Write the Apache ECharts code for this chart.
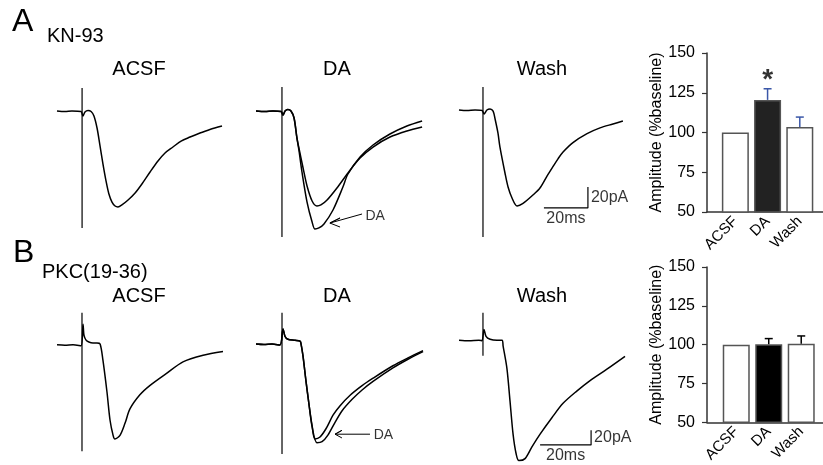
<!DOCTYPE html>
<html><head><meta charset="utf-8">
<script src="https://cdn.jsdelivr.net/npm/echarts@6/dist/echarts.min.js"></script>
<style>html,body{margin:0;padding:0;background:#fff}#c{width:823px;height:465px}</style>
</head><body><div id="c"></div>
<script>
// ---- bar data ----
const barCategories = ['ACSF', 'DA', 'Wash'];
const ampKN93 = [100, 120.5, 103.5];
const semKN93 = [0, 7, 6.2];
const ampPKC = [100, 100.3, 100.5];
const semPKC = [0, 3.6, 5.1];

// ---- traces: [time ms, current pA] ----
const traceA_ACSF = [[0,0],[3.6,-0.5],[6.8,0],[10.9,-0.5],[11.8,-4.8],[12.7,-1],[14.1,0.5],[15.5,-0.5],[16.8,-4.8],[18.2,-16.2],[19.5,-32.4],[20.9,-50.5],[22.3,-66.7],[23.6,-79],[25,-86.7],[26.4,-90.5],[27.7,-91.4],[29.5,-89.5],[32.3,-84.8],[35.5,-78.1],[38.6,-69.5],[42.3,-58.1],[45.9,-47.6],[49.1,-40],[52.7,-34.3],[56.4,-28.6],[60.5,-24.8],[65,-21],[69.5,-17.6],[75,-14.3]];
const stimA_ACSF = [[11.4,21.9],[11.4,-111.4]];
const traceA_DA_ctrl = [[0,0],[4.1,-0.5],[7.7,0],[11.4,-0.5],[12.3,-3.8],[13.2,0],[14.5,1.4],[15.9,0],[17.3,-6.7],[18.6,-25.7],[19.5,-35.2],[21.4,-54.3],[23.2,-71.4],[25.5,-85.7],[27.7,-90.5],[29.5,-89.5],[32.3,-84.8],[36.8,-73.3],[41.8,-59],[47.3,-44.8],[53.2,-34.3],[60.9,-24.8],[68.6,-19],[75.5,-15.2]];
const traceA_DA_drug = [[0,0],[4.1,-0.5],[7.7,0],[11.4,-0.5],[12.3,-3.8],[13.2,0],[14.5,1.4],[15.9,0],[17.3,-6.7],[18.6,-25.7],[19.5,-37.1],[20.9,-58.1],[23.2,-86.7],[25.5,-105.7],[26.8,-112.4],[28.6,-111.4],[30.9,-107.6],[35,-94.3],[39.5,-72.4],[41.8,-60],[47.3,-43.8],[53.2,-32.4],[60.9,-21.9],[68.6,-14.3],[75.5,-9.5]];
const stimA_DA = [[11.8,22.9],[11.8,-120]];
const traceA_Wash = [[0,0],[3.6,-0.5],[7.3,0],[10.5,-0.5],[11.4,-3.8],[12.7,0],[14.1,1],[15.5,-1],[16.4,-8.6],[17.7,-21.9],[18.6,-35.2],[20.9,-60],[22.3,-73.3],[24.1,-83.8],[26.4,-91.4],[29.1,-89],[33.6,-81],[36.8,-74.3],[40,-63],[42.7,-54],[45,-46.5],[47.3,-40],[51.8,-31],[58.2,-22.5],[64.1,-17],[70,-13.3],[74.5,-10.5]];
const stimA_Wash = [[10.9,21.9],[10.9,-121]];

const traceB_ACSF = [[0,0],[3.1,-0.7],[6.3,0],[9.4,-1.3],[10.2,29.3],[10.6,13.3],[11.4,6.7],[12.5,4],[14.1,2.7],[15.7,2.7],[16.9,1.3],[18,-21.3],[19.6,-66.7],[20.8,-106.7],[22,-128],[22.7,-133.3],[24.7,-128],[26.7,-110.7],[28.6,-90.7],[32.5,-70.7],[36.5,-57.3],[43.1,-40],[49.4,-24],[57.3,-14.7],[65.1,-9.3]];
const stimB_ACSF = [[9.8,45.3],[9.8,-150.7]];
const traceB_DA_ctrl = [[0,0],[3.1,-0.7],[6.3,0],[9.4,-1.3],[10.6,21.3],[11.4,10.7],[12.5,6.7],[15.3,5.3],[17.3,4],[17.6,1.3],[18.4,-16],[19.6,-52],[20.8,-85.3],[22,-114.7],[23.1,-133.3],[25.1,-130.7],[27.5,-118.7],[30.2,-100],[32.9,-87],[36.9,-72],[41.6,-58.5],[45.9,-48],[53.7,-30.5],[59.6,-19.5],[65.5,-9.3]];
const traceB_DA_drug = [[0,0],[3.1,-0.7],[6.3,0],[9.4,-1.3],[10.6,21.3],[11.4,10.7],[12.5,6.7],[15.3,5.3],[17.3,4],[17.6,1.3],[18.4,-16],[19.6,-52],[20.8,-85.3],[22,-116],[23.9,-138.7],[25.9,-137.3],[28.2,-128],[31,-110],[33.7,-94],[37.6,-78],[41.6,-64.5],[45.9,-52.5],[53.7,-33.5],[59.6,-21.3],[65.5,-10.7]];
const stimB_DA = [[10.2,44],[10.2,-154.7]];
const traceB_Wash = [[0,0],[3.9,-0.7],[7.8,0],[9.0,-0.7],[9.8,14.7],[10.6,5.3],[12.2,1.3],[14.9,0],[16.9,0],[17.3,-8],[18.8,-38.7],[20,-82.7],[21.2,-128],[22.4,-154.7],[23.5,-164],[25.9,-161.3],[28.6,-145.3],[31.8,-128],[36.5,-105.3],[40.8,-86],[46.3,-69],[51.4,-55],[58,-39.5],[65.1,-22]];
const stimB_Wash = [[9.4,37.3],[9.4,-21.3]];

const FONT = '"Liberation Sans", Arial, sans-serif';

// trace grid layout
const traceGrids = [
  {left:57,  top:79.5,  width:171.6, height:162.75},
  {left:256, top:79.5,  width:171.6, height:162.75},
  {left:459, top:78.5,  width:171.6, height:162.75},
  {left:57,  top:309.5, width:173.4, height:165},
  {left:256, top:308.5, width:173.4, height:165},
  {left:459, top:303.5, width:173.4, height:165}
];
const grids = traceGrids.concat([
  {left:707, top:53,  width:116, height:159},
  {left:707, top:267, width:116, height:157}
]);

const xAxes = [], yAxes = [];
traceGrids.forEach((g, i) => {
  const rowA = i < 3;
  xAxes.push({type:'value', gridIndex:i, min:0, max: rowA ? 78 : 68, show:false});
  yAxes.push({type:'value', gridIndex:i, min: rowA ? -125 : -170, max: rowA ? 30 : 50, show:false});
});
function barX(gi, min, max) {
  return {type:'value', gridIndex:gi, min:min, max:max,
    axisLine:{show:true, onZero:false, lineStyle:{color:'#333', width:1.5}},
    axisTick:{show:false}, splitLine:{show:false},
    axisLabel:{customValues:[0,1,2], formatter:v => barCategories[Math.round(v)], rotate:45,
      fontSize:15, fontFamily:FONT, color:'#000', margin:7}};
}
function barY(gi) {
  return {type:'value', gridIndex:gi, min:50, max:150, interval:25, position:'left',
    axisLine:{show:true, onZero:false, lineStyle:{color:'#333', width:1.5}},
    axisTick:{show:true, length:5, lineStyle:{color:'#333', width:1.2}},
    splitLine:{show:false},
    axisLabel:{fontSize:16, fontFamily:FONT, color:'#000', margin:12},
    name:'Amplitude (%baseline)', nameLocation:'middle', nameGap:41, nameRotate:90,
    nameTextStyle:{fontSize:16, fontFamily:FONT, color:'#000'}};
}
xAxes.push(barX(6, -0.88, 2.72), barX(7, -0.9, 2.67));
yAxes.push(barY(6), barY(7));

const series = [];
function trace(gi, data, w) {
  series.push({type:'line', xAxisIndex:gi, yAxisIndex:gi, data:data, showSymbol:false, smooth:0.3,
    lineStyle:{color:'#000', width: w || 1.5}, silent:true});
}
function poly(gi, data, w) {
  series.push({type:'line', xAxisIndex:gi, yAxisIndex:gi, data:data, showSymbol:false, smooth:false,
    lineStyle:{color:'#000', width: w || 1.2}, silent:true});
}
function textAt(gi, pt, text, pos, size) {
  series.push({type:'scatter', xAxisIndex:gi, yAxisIndex:gi, data:[pt], symbolSize:0, silent:true,
    label:{show:true, formatter:text, position:pos, distance:3, fontSize:size, fontFamily:FONT, color:'#000'}});
}
trace(0, traceA_ACSF); poly(0, stimA_ACSF);
trace(1, traceA_DA_ctrl); trace(1, traceA_DA_drug); poly(1, stimA_DA);
trace(2, traceA_Wash); poly(2, stimA_Wash);
trace(3, traceB_ACSF); poly(3, stimB_ACSF);
trace(4, traceB_DA_ctrl); trace(4, traceB_DA_drug); poly(4, stimB_DA);
trace(5, traceB_Wash); poly(5, stimB_Wash);

// arrows pointing at DA traces
poly(1, [[48.2,-98.1],[33.6,-106.7],[38.2,-101.9],[33.6,-106.7],[38.2,-110.5]], 1);
textAt(1, [48.4,-100.5], 'DA', 'right', 14);
poly(4, [[44.7,-126.7],[31,-126.7],[33.7,-121.3],[31,-126.7],[33.7,-132]], 1);
textAt(4, [45,-128], 'DA', 'right', 14);

// scale bars (20 ms, 20 pA)
poly(2, [[38.6,-93.3],[58.6,-93.3],[58.6,-73.3]], 1.2);
textAt(2, [58.6,-83.3], '20pA', 'right', 16);
textAt(2, [48.6,-93.3], '20ms', 'bottom', 16);
poly(5, [[31.8,-142.7],[51.8,-142.7],[51.8,-122.7]], 1.2);
textAt(5, [51.8,-132.7], '20pA', 'right', 16);
textAt(5, [41.8,-142.7], '20ms', 'bottom', 16);

// bars
function bars(gi, amps, sems, darkColor, errColor) {
  series.push({type:'bar', xAxisIndex:gi, yAxisIndex:gi, barWidth:27, clip:true, silent:true,
    data: amps.map((a, i) => ({value:[i, a], itemStyle:{color: i === 1 ? darkColor : '#fff'}})),
    itemStyle:{borderColor:'#555', borderWidth:1.5}});
  series.push({type:'custom', xAxisIndex:gi, yAxisIndex:gi, z:5, silent:true,
    data: amps.map((a, i) => [i, a, a + sems[i]]),
    renderItem: (params, api) => {
      const x = api.value(0), lo = api.value(1), hi = api.value(2);
      if (!(hi > lo)) return {type:'group', children:[]};
      const p0 = api.coord([x, lo]), p1 = api.coord([x, hi]);
      return {type:'group', children:[
        {type:'line', shape:{x1:p0[0], y1:p0[1], x2:p1[0], y2:p1[1]}, style:{stroke:errColor, lineWidth:1.5}},
        {type:'line', shape:{x1:p1[0]-4, y1:p1[1], x2:p1[0]+4, y2:p1[1]}, style:{stroke:errColor, lineWidth:1.5}}
      ]};
    }});
}
bars(6, ampKN93, semKN93, '#222', '#3a57a8');
bars(7, ampPKC, semPKC, '#000', '#000');
series.push({type:'scatter', xAxisIndex:6, yAxisIndex:6, data:[[1, 133]], symbolSize:0, silent:true,
  label:{show:true, formatter:'*', position:'inside', fontSize:28, fontWeight:'bold', fontFamily:FONT, color:'#000'}});

function txt(x, y, text, size, align) {
  return {type:'text', x:x, y:y, silent:true,
    style:{text:text, font: size + 'px ' + FONT, fill:'#000', textAlign: align || 'center', textVerticalAlign:'middle'}};
}
const graphics = [
  txt(12, 22, 'A', 32, 'left'), txt(47, 36, 'KN-93', 20, 'left'),
  txt(139, 69, 'ACSF', 20), txt(337, 69, 'DA', 20), txt(542, 69, 'Wash', 20),
  txt(13, 253, 'B', 32, 'left'), txt(42, 272, 'PKC(19-36)', 20, 'left'),
  txt(139, 296, 'ACSF', 20), txt(337, 296, 'DA', 20), txt(542, 296, 'Wash', 20)
];

const chart = echarts.init(document.getElementById('c'), null, {renderer:'canvas'});
chart.setOption({
  animation:false, backgroundColor:'#fff',
  grid: grids, xAxis: xAxes, yAxis: yAxes, series: series,
  graphic: {elements: graphics}
});
</script></body></html>
